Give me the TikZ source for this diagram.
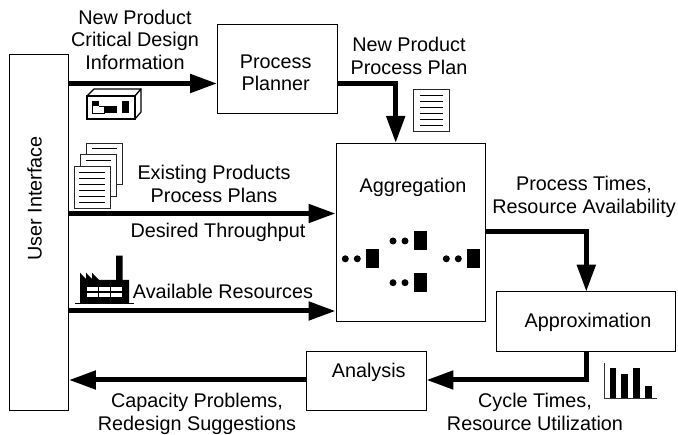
\documentclass[tikz,border=0pt]{standalone}
\usepackage{fontspec}
\setmainfont{Liberation Sans}
\usetikzlibrary{arrows.meta}
\tikzset{
 box/.style={draw=black,line width=0.9pt,fill=white,inner sep=0pt},
 lab/.style={inner sep=0pt,font=\fontsize{19.8}{22.4}\selectfont,align=center,text=black},
 flow/.style={line width=5pt,-{Triangle[length=27pt,width=18pt]},line join=miter},
 sheet/.style={draw=black!85,line width=0.7pt,fill=white},
 rule/.style={draw=black,line width=0.8pt},
 solid dot/.style={circle,fill=black,inner sep=0pt,minimum size=7pt},
 res/.style={fill=black,inner sep=0pt,minimum width=13pt,minimum height=19pt}
}
\begin{document}
\begin{tikzpicture}[x=1pt,y=-1pt]
\useasboundingbox (0,0) rectangle (678,435);
\fill[white] (0,0) rectangle (678,435);
\node[box,minimum width=59pt,minimum height=356pt] (ui) at (39,232) {};
\node[lab,rotate=90] (uil) at (34.5,198.5) {User Interface};
\node[box,minimum width=119.5pt,minimum height=88.5pt] (pp) at (277.25,68.75) {};
\node[lab] (ppl) at (275.7,73) {Process\\Planner};
\node[box,minimum width=149pt,minimum height=178pt] (ag) at (410.5,232) {};
\node[lab] (agl) at (413,187) {Aggregation};
\node[box,minimum width=178.6pt,minimum height=59.3pt] (ap) at (586,321.35) {};
\node[lab] (apl) at (588,322.3) {Approximation};
\node[box,minimum width=120pt,minimum height=59pt] (an) at (366,380.5) {};
\node[lab] (anl) at (368.7,372.5) {Analysis};
% connectors
\coordinate (a1s) at (ui.east |- 0,83.5);
\draw[flow] (a1s) -- (pp.west |- a1s);
\coordinate (a2s) at (ui.east |- 0,213.5);
\draw[flow] (a2s) -- (ag.west |- a2s);
\coordinate (a3s) at (ui.east |- 0,311);
\draw[flow] (a3s) -- (ag.west |- a3s);
\coordinate (pb) at (pp.east |- 0,83.5);
\draw[flow] (pb) -- (395.7,83.5) -- (395.7,143);
\coordinate (ao) at (ag.east |- 0,231.7);
\draw[flow] (ao) -- (586.3,231.7) -- (586.3,291.7);
\coordinate (apo) at (586.3,351);
\draw[flow] (apo) -- (586.3,380) -- (an.east |- 0,380);
\draw[flow] (an.west |- 0,380) -- (ui.east |- 0,380);
% labels
\node[lab] (l1) at (135,39.7) {New Product\\Critical Design\\Information};
\node[lab] (l2) at (409,56) {New Product\\Process Plan};
\node[lab] (l3) at (214,184) {Existing Products\\Process Plans};
\node[lab] (l4) at (218,232.3) {Desired Throughput};
\node[lab] (l5) at (223,291.7) {Available Resources};
\node[lab] (l6) at (584,196.7) {Process Times,\\Resource Availability};
\node[lab] (l7) at (535,412) {Cycle Times,\\Resource Utilization};
\node[lab] (l8) at (197,414) {Capacity Problems,\\Redesign Suggestions};
% process plan sheet
\draw[sheet] (413.3,89.3) rectangle (449.7,131.3);
\foreach \y in {95,101,107,113,119,125} \draw[rule] (419.7,\y) -- (443,\y);
% stack of sheets
\draw[sheet] (86.3,143) rectangle (122.7,184);
\draw[rule] (91.7,148.5) -- (116.7,148.5);
\draw[sheet] (80.3,154.5) rectangle (116.7,196.5);
\draw[rule] (85.7,160.7) -- (110.7,160.7);
\draw[sheet] (74,166) rectangle (110.3,208);
\foreach \y in {172.5,178.5,184.5,190.5,196.5,202.5} \draw[rule] (79,\y) -- (105,\y);
% part
\draw[black,line width=1.2pt,fill=white,line join=round] (87,96) -- (94,89) -- (141,89) -- (135,96) -- cycle;
\draw[black,line width=1.2pt,fill=white,line join=round] (135,96) -- (141,89) -- (141,112) -- (135,119) -- cycle;
\draw[black,line width=1.2pt,fill=white] (87,96) rectangle (135,119);
\fill[black] (92.3,101) rectangle (99.3,106.5);
\fill[black] (99,105.6) rectangle (116.7,107);
\fill[black] (104.3,106.7) rectangle (116.7,113.5);
\fill[black] (121.7,101) rectangle (128.5,113.5);
\draw[black,line width=0.7pt] (92.6,106) -- (92.6,113.2) -- (104.5,113.2);
% factory
\fill[black] (80,303.5) -- (80,272.7) -- (86,279) -- (86,272.7) -- (92,279) -- (92,272.7) -- (99,280) -- (116,280) -- (116,255.7) -- (122.7,255.7) -- (122.7,280) -- (129,280) -- (129,303.5) -- cycle;
\draw[black,line width=0.7pt] (75,303.4) -- (134,303.4);
\foreach \x in {86.9,99,111}{
  \fill[white] (\x,286.7) rectangle (\x+11,291.3);
  \fill[white] (\x,292.7) rectangle (\x+11,297.3);
}
% aggregation contents
\foreach \x/\y in {345.3/258.8,393/241,393/282.7,446.3/258.8}{
  \node[solid dot] at (\x,\y) {};
  \node[solid dot] at (\x+12,\y) {};
  \node[res] at (\x+27,\y) {};
}
% bars
\draw[black!80,line width=0.7pt] (604,363.3) -- (604,398.3) -- (657,398.3);
\fill[black] (609.7,368.3) rectangle (616.3,398.3);
\fill[black] (621.3,374.3) rectangle (628,398.3);
\fill[black] (633.3,368.3) rectangle (640,398.3);
\fill[black] (645.3,386.3) rectangle (652,398.3);
\end{tikzpicture}
\end{document}
